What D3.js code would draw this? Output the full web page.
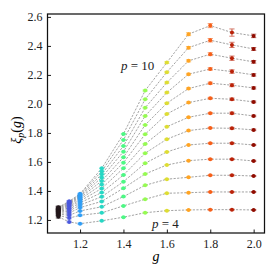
<!DOCTYPE html>
<html><head><meta charset="utf-8">
<script src="https://cdn.jsdelivr.net/npm/d3@7"></script>
<style>body{margin:0;background:#fff} svg text{font-family:"Liberation Serif","Times New Roman","DejaVu Serif",serif !important;}</style>
</head><body>
<svg id="c" width="278" height="278"></svg>
<script>
const gValues = [1.10, 1.15, 1.20, 1.30, 1.40, 1.50, 1.60, 1.70, 1.80, 1.90, 2.00];
const pValues = [4, 4.5, 5, 5.5, 6, 6.5, 7, 7.5, 8, 8.5, 9, 9.5, 10];
// xi_p(g) for each g column, ordered p = 4 ... 10
const xi_g110 = [1.222, 1.232, 1.240, 1.247, 1.253, 1.258, 1.263, 1.267, 1.271, 1.275, 1.279, 1.283, 1.287];
const xi_g115 = [1.186, 1.213, 1.232, 1.248, 1.261, 1.273, 1.284, 1.294, 1.303, 1.311, 1.318, 1.324, 1.329];
const xi_g120 = [1.174, 1.232, 1.262, 1.285, 1.303, 1.318, 1.331, 1.342, 1.352, 1.360, 1.367, 1.374, 1.380];
const xi_g130 = [1.194, 1.249, 1.291, 1.328, 1.360, 1.389, 1.417, 1.444, 1.469, 1.493, 1.515, 1.536, 1.556];
const xi_g140 = [1.219, 1.297, 1.361, 1.419, 1.464, 1.510, 1.557, 1.595, 1.632, 1.671, 1.710, 1.752, 1.793];
const xi_g150 = [1.250, 1.343, 1.439, 1.517, 1.591, 1.660, 1.724, 1.791, 1.855, 1.917, 1.974, 2.032, 2.092];
const xi_g160 = [1.264, 1.384, 1.481, 1.579, 1.669, 1.757, 1.843, 1.931, 2.005, 2.078, 2.147, 2.219, 2.285];
const xi_g170 = [1.269, 1.388, 1.494, 1.609, 1.717, 1.816, 1.908, 2.009, 2.106, 2.205, 2.297, 2.388, 2.481];
const xi_g180 = [1.271, 1.393, 1.508, 1.619, 1.729, 1.834, 1.936, 2.039, 2.143, 2.241, 2.343, 2.439, 2.540];
const xi_g190 = [1.271, 1.393, 1.508, 1.619, 1.729, 1.832, 1.936, 2.032, 2.129, 2.223, 2.315, 2.407, 2.492];
const xi_g200 = [1.269, 1.393, 1.503, 1.607, 1.717, 1.821, 1.917, 2.014, 2.110, 2.200, 2.290, 2.379, 2.469];
// error bars
const err_g110 = [0.009, 0.009, 0.009, 0.009, 0.009, 0.009, 0.009, 0.009, 0.009, 0.009, 0.009, 0.009, 0.009];
const err_g115 = [0.005, 0.005, 0.005, 0.005, 0.005, 0.005, 0.005, 0.005, 0.005, 0.005, 0.005, 0.005, 0.005];
const err_g120 = [0.004, 0.004, 0.004, 0.004, 0.004, 0.004, 0.004, 0.004, 0.004, 0.004, 0.004, 0.004, 0.004];
const err_g130 = [0.003, 0.003, 0.003, 0.003, 0.003, 0.003, 0.003, 0.003, 0.003, 0.003, 0.003, 0.003, 0.003];
const err_g140 = [0.003, 0.003, 0.003, 0.003, 0.003, 0.003, 0.003, 0.003, 0.003, 0.003, 0.003, 0.003, 0.003];
const err_g150 = [0.003, 0.003, 0.003, 0.003, 0.003, 0.003, 0.003, 0.003, 0.003, 0.003, 0.003, 0.003, 0.004];
const err_g160 = [0.003, 0.003, 0.003, 0.003, 0.003, 0.003, 0.003, 0.004, 0.004, 0.004, 0.005, 0.005, 0.006];
const err_g170 = [0.003, 0.003, 0.003, 0.003, 0.004, 0.004, 0.004, 0.005, 0.005, 0.006, 0.007, 0.008, 0.010];
const err_g180 = [0.003, 0.003, 0.003, 0.004, 0.004, 0.004, 0.005, 0.006, 0.007, 0.008, 0.010, 0.012, 0.014];
const err_g190 = [0.003, 0.003, 0.004, 0.004, 0.005, 0.006, 0.007, 0.008, 0.010, 0.012, 0.015, 0.018, 0.025];
const err_g200 = [0.003, 0.003, 0.003, 0.004, 0.004, 0.005, 0.005, 0.006, 0.007, 0.008, 0.009, 0.010, 0.012];
const xTicks = [1.2, 1.4, 1.6, 1.8, 2.0];
const yTicks = [1.2, 1.4, 1.6, 1.8, 2.0, 2.2, 2.4, 2.6];

const columns = [xi_g110, xi_g115, xi_g120, xi_g130, xi_g140, xi_g150, xi_g160, xi_g170, xi_g180, xi_g190, xi_g200];
const errors = [err_g110, err_g115, err_g120, err_g130, err_g140, err_g150, err_g160, err_g170, err_g180, err_g190, err_g200];

const svg = d3.select("#c");
const L = 47.5, R = 264.5, T = 14, B = 233;
const x = d3.scaleLinear().domain([1.05, 2.05]).range([L, R]);
const y = d3.scaleLinear().domain([1.11, 2.62]).range([B, T]);
const color = i => d3.interpolateTurbo(i / (gValues.length - 1));

// lines per p
const line = d3.line().x(d => x(d.g)).y(d => y(d.v));
pValues.forEach((p, j) => {
  const pts = gValues.map((g, i) => ({g, v: columns[i][j]}));
  svg.append("path").attr("d", line(pts)).attr("fill", "none")
    .attr("stroke", "#8c8c8c").attr("stroke-width", 0.8).attr("stroke-dasharray", "2.2,1.4");
});

// points with error bars
gValues.forEach((g, i) => {
  const c = color(i);
  const grp = svg.append("g");
  pValues.forEach((p, j) => {
    const v = columns[i][j], e = errors[i][j];
    const cx = x(g);
    grp.append("line").attr("x1", cx).attr("x2", cx).attr("y1", y(v - e)).attr("y2", y(v + e))
      .attr("stroke", c).attr("stroke-width", 1).attr("opacity", 0.6);
    [v - e, v + e].forEach(vv => grp.append("line").attr("x1", cx - 2.6).attr("x2", cx + 2.6)
      .attr("y1", y(vv)).attr("y2", y(vv)).attr("stroke", c).attr("stroke-width", 1).attr("opacity", 0.6));
    grp.append("circle").attr("cx", cx).attr("cy", y(v)).attr("r", 2).attr("fill", c);
  });
});

// axes
const xa = svg.append("g").attr("transform", `translate(0,${B})`)
  .call(d3.axisBottom(x).tickValues(xTicks).tickSize(-3.5).tickPadding(6).tickFormat(d3.format(".1f")));
const ya = svg.append("g").attr("transform", `translate(${L},0)`)
  .call(d3.axisLeft(y).tickValues(yTicks).tickSize(-3.5).tickPadding(5).tickFormat(d3.format(".1f")));
[xa, ya].forEach(a => {
  a.select(".domain").remove();
  a.selectAll(".tick line").attr("stroke", "#000").attr("stroke-width", 0.9);
  a.selectAll(".tick text").attr("font-size", 12).attr("fill", "#222");
});

// frame
svg.append("rect").attr("x", L).attr("y", T).attr("width", R - L).attr("height", B - T)
  .attr("fill", "none").attr("stroke", "#111").attr("stroke-width", 1.25);

// labels
svg.append("text").attr("x", (L + R) / 2).attr("y", 261).attr("text-anchor", "middle")
  .attr("font-size", 14).attr("font-style", "italic").text("g");
const yl = svg.append("text").attr("transform", "translate(21,130) rotate(-90)").attr("text-anchor", "middle")
  .attr("font-size", 14);
yl.append("tspan").attr("font-style", "italic").text("ξ");
yl.append("tspan").attr("font-style", "italic").attr("font-size", 10).attr("dy", 3).text("p");
yl.append("tspan").attr("dy", -3).text("(");
yl.append("tspan").attr("font-style", "italic").text("g");
yl.append("tspan").text(")");

function pLabel(xp, yp, num) {
  const t = svg.append("text").attr("x", xp).attr("y", yp).attr("font-size", 13).attr("fill", "#222");
  t.append("tspan").attr("font-style", "italic").text("p");
  t.append("tspan").text(" = " + num);
}
pLabel(121, 70, "10");
pLabel(152, 228, "4");
</script>
</body></html>
